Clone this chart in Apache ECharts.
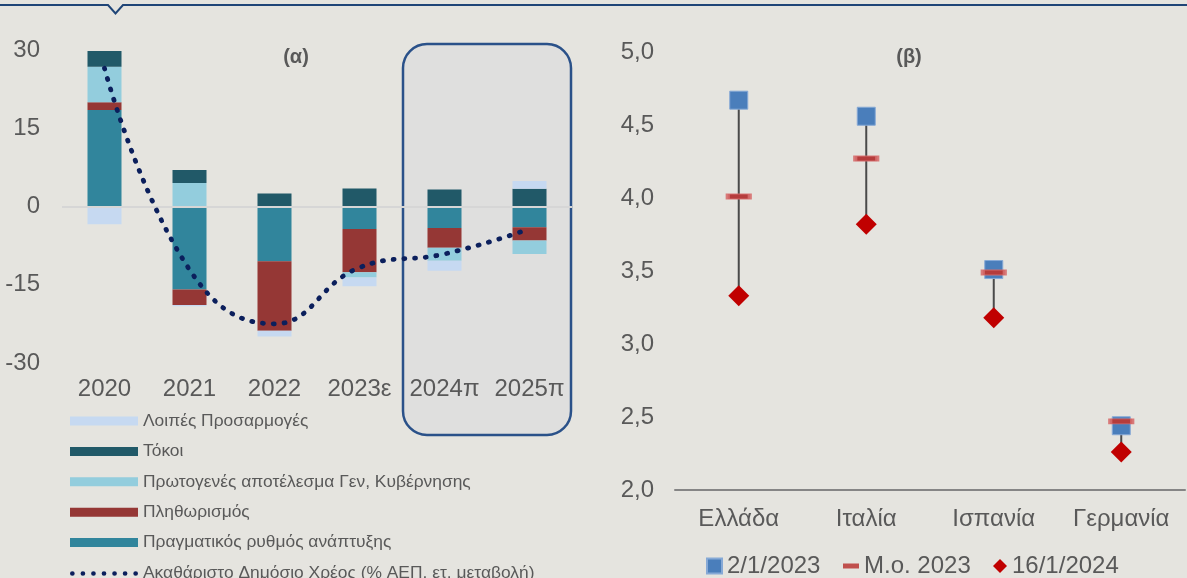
<!DOCTYPE html>
<html>
<head>
<meta charset="utf-8">
<script src="https://cdn.jsdelivr.net/npm/echarts@6/dist/echarts.min.js"></script>
<style>
html,body{margin:0;padding:0;background:#e5e4df;}
#c{width:1187px;height:578px;}
</style>
</head>
<body>
<div id="c"></div>
<script>
// ---- Panel (α) data ----
const years = ['2020', '2021', '2022', '2023ε', '2024π', '2025π'];
const realGrowth = [18.5, -15.9, -10.5, -4.3, -4.1, -4.0];
const inflation = [1.5, -3.0, -13.3, -8.3, -3.8, -2.5];
const primaryBalance = [6.8, 4.5, 0, -1.0, -2.5, -2.6];
const interest = [3.0, 2.5, 2.5, 3.45, 3.25, 3.4];
const otherAdjustments = [-3.4, -0.2, -1.1, -1.7, -1.9, 1.5];
const debtChange = [26.5, -12.1, -22.5, -11.7, -9.1, -4.3];
const leftTicks = [-30, -15, 0, 15, 30];

// ---- Panel (β) data ----
const countries = ['Ελλάδα', 'Ιταλία', 'Ισπανία', 'Γερμανία'];
const yieldJan2023 = [4.67, 4.56, 3.51, 2.44];
const avg2023 = [4.01, 4.27, 3.49, 2.47];
const yieldJan2024 = [3.33, 3.82, 3.18, 2.26];
const rightTicks = [2.0, 2.5, 3.0, 3.5, 4.0, 4.5, 5.0];

const FONT = "'Liberation Sans', Arial, sans-serif";
const TXT = '#595959';

const names = {
  other: 'Λοιπές Προσαρμογές',
  interest: 'Τόκοι',
  primary: 'Πρωτογενές αποτέλεσμα Γεν, Κυβέρνησης',
  infl: 'Πληθωρισμός',
  growth: 'Πραγματικός ρυθμός ανάπτυξης',
  debt: 'Ακαθάριστο Δημόσιο Χρέος (% ΑΕΠ, ετ. μεταβολή)'
};

const rangeData = countries.map((c, i) => {
  const v = [yieldJan2023[i], avg2023[i], yieldJan2024[i]];
  return [i, Math.max.apply(null, v), Math.min.apply(null, v)];
});

// seven-dot legend icon for the dotted debt line
let dotsPath = 'path://';
for (let k = 0; k < 7; k++) {
  const cx = 2.35 + k * 10.55;
  dotsPath += 'M' + (cx - 2.35) + ',2.35a2.35,2.35 0 1,0 4.7,0a2.35,2.35 0 1,0 -4.7,0';
}

const chart = echarts.init(document.getElementById('c'), null, {renderer: 'canvas'});

function barSeries(name, data, color) {
  return {
    name: name, type: 'bar', stack: 'a', data: data, barWidth: 34,
    xAxisIndex: 0, yAxisIndex: 0,
    itemStyle: {color: color}, emphasis: {disabled: true}
  };
}

const legendText = {color: TXT, fontSize: 17.4, fontFamily: FONT};
const legendTextR = {color: TXT, fontSize: 24, fontFamily: FONT};

const option = {
  backgroundColor: '#e5e4df',
  animation: false,
  textStyle: {fontFamily: FONT},
  grid: [
    {left: 62, top: 50, width: 510, height: 313, containLabel: false},
    {left: 675, top: 52, width: 510, height: 438, containLabel: false}
  ],
  xAxis: [
    {
      type: 'category', gridIndex: 0, data: years,
      axisLine: {show: false}, axisTick: {show: false},
      axisLabel: {color: TXT, fontSize: 24, fontFamily: FONT, margin: 14, interval: 0}
    },
    {
      type: 'category', gridIndex: 1, data: countries,
      axisLine: {show: true, lineStyle: {color: '#858585', width: 2}},
      axisTick: {show: false},
      axisLabel: {color: TXT, fontSize: 24, fontFamily: FONT, margin: 17, interval: 0}
    }
  ],
  yAxis: [
    {
      type: 'value', gridIndex: 0, min: leftTicks[0], max: leftTicks[leftTicks.length - 1], interval: 15,
      axisLine: {show: false}, axisTick: {show: false}, splitLine: {show: false},
      axisLabel: {color: TXT, fontSize: 24, fontFamily: FONT, margin: 22}
    },
    {
      type: 'value', gridIndex: 1, min: rightTicks[0], max: rightTicks[rightTicks.length - 1], interval: 0.5,
      axisLine: {show: false}, axisTick: {show: false}, splitLine: {show: false},
      axisLabel: {
        color: TXT, fontSize: 24, fontFamily: FONT, margin: 21,
        formatter: v => v.toFixed(1).replace('.', ',')
      }
    }
  ],
  legend: [
    {
      orient: 'vertical', left: 70, top: 412.5, padding: 0, itemWidth: 68, itemHeight: 9,
      itemGap: 13.4, itemTextGap: 7, selectedMode: false, textStyle: legendText,
      data: [
        {name: names.other, icon: 'rect'},
        {name: names.interest, icon: 'rect'},
        {name: names.primary, icon: 'rect'},
        {name: names.infl, icon: 'rect'},
        {name: names.growth, icon: 'rect'}
      ]
    },
    {
      orient: 'horizontal', left: 70, top: 565, padding: 0, itemWidth: 68, itemHeight: 5,
      itemTextGap: 7, selectedMode: false, textStyle: legendText,
      data: [{name: names.debt, icon: dotsPath, itemStyle: {color: '#0b1f5c'}}]
    },
    {
      left: 706, top: 554, padding: 0, itemWidth: 15, itemHeight: 15, itemTextGap: 2, selectedMode: false,
      textStyle: legendTextR,
      data: [{name: '2/1/2023', icon: 'rect'}]
    },
    {
      left: 843, top: 554, padding: 0, itemWidth: 16, itemHeight: 5, itemTextGap: 3, selectedMode: false,
      textStyle: legendTextR,
      data: [{name: 'Μ.ο. 2023', icon: 'rect', itemStyle: {color: '#c0504d', borderWidth: 0}}]
    },
    {
      left: 993, top: 554, padding: 0, itemWidth: 14, itemHeight: 14, itemTextGap: 4, selectedMode: false,
      textStyle: legendTextR,
      data: [{name: '16/1/2024', icon: 'diamond'}]
    }
  ],
  series: [
    Object.assign(barSeries(names.growth, realGrowth, '#31859c'), {
      markLine: {
        silent: true, symbol: 'none', label: {show: false},
        lineStyle: {color: '#d6d6d6', width: 2, type: 'solid'},
        data: [{yAxis: 0}]
      }
    }),
    barSeries(names.infl, inflation, '#953735'),
    barSeries(names.primary, primaryBalance, '#93cddd'),
    barSeries(names.interest, interest, '#215968'),
    barSeries(names.other, otherAdjustments, '#c6d9f1'),
    {
      name: names.debt, type: 'line', data: debtChange, smooth: 0.45,
      xAxisIndex: 0, yAxisIndex: 0, symbol: 'none', z: 5,
      lineStyle: {color: '#0b1f5c', width: 4.8, type: [1, 9.8], cap: 'round'},
      itemStyle: {color: '#0b1f5c'}
    },
    {
      name: 'range', type: 'custom', xAxisIndex: 1, yAxisIndex: 1, data: rangeData, z: 1,
      renderItem: function (params, api) {
        const p1 = api.coord([api.value(0), api.value(1)]);
        const p2 = api.coord([api.value(0), api.value(2)]);
        return {
          type: 'line',
          shape: {x1: p1[0], y1: p1[1], x2: p2[0], y2: p2[1]},
          style: {stroke: '#4a4a4a', lineWidth: 2}
        };
      }
    },
    {
      name: '2/1/2023', type: 'scatter', xAxisIndex: 1, yAxisIndex: 1, data: yieldJan2023,
      symbol: 'rect', symbolSize: 18, z: 3,
      itemStyle: {color: '#4a7ebb', borderColor: '#86a9d6', borderWidth: 1, opacity: 1}
    },
    {
      name: 'Μ.ο. 2023', type: 'scatter', xAxisIndex: 1, yAxisIndex: 1, data: avg2023,
      symbol: 'rect', symbolSize: [22, 5], z: 4,
      itemStyle: {color: '#b53c3c', borderColor: 'rgba(214,110,110,0.9)', borderWidth: 2, opacity: 1}
    },
    {
      name: '16/1/2024', type: 'scatter', xAxisIndex: 1, yAxisIndex: 1, data: yieldJan2024,
      symbol: 'diamond', symbolSize: [21, 21], z: 5,
      itemStyle: {color: '#c00000', opacity: 1}
    }
  ],
  graphic: [
    {
      type: 'polyline', id: 'topline', silent: true,
      shape: {points: [[0, 5], [108, 5], [115.5, 13.5], [123, 5], [1187, 5]]},
      style: {stroke: '#1f4577', lineWidth: 2, fill: null}
    },
    {
      type: 'text', id: 'ta', silent: true, x: 296, y: 57,
      style: {text: '(α)', font: 'bold 20px ' + FONT, fill: TXT, textAlign: 'center', textVerticalAlign: 'middle'}
    },
    {
      type: 'text', id: 'tb', silent: true, x: 909, y: 57,
      style: {text: '(β)', font: 'bold 20px ' + FONT, fill: TXT, textAlign: 'center', textVerticalAlign: 'middle'}
    }
  ]
};

chart.setOption(option);

// Forecast highlight box around the last two categories
const xa = chart.convertToPixel({xAxisIndex: 0}, years[4]);
const xb = chart.convertToPixel({xAxisIndex: 0}, years[5]);
const band = xb - xa;
const boxLeft = xa - band / 2 + 1;
const boxRight = xb + band / 2 - 1;
chart.setOption({
  graphic: [{
    type: 'rect', id: 'fbox', silent: true, z: -10, zlevel: 0,
    shape: {x: boxLeft, y: 44, width: boxRight - boxLeft, height: 391, r: 24},
    style: {fill: '#dfdfde', stroke: '#2a5189', lineWidth: 2.5}
  }]
});
</script>
</body>
</html>
